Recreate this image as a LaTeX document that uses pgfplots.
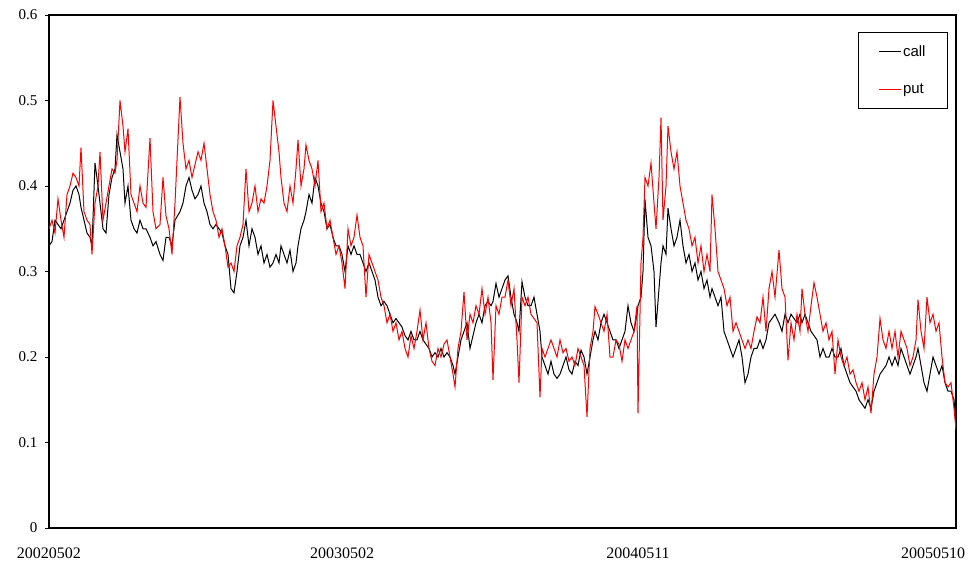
\documentclass[border=0pt]{standalone}
\usepackage{fontspec}
\setmainfont{Liberation Serif}
\setsansfont{Liberation Sans}
\usepackage{pgfplots}
\usepackage{pgfplotstable}
\pgfplotsset{compat=1.18}
\pgfplotstableread{
x c p
49 .33 .35
52 .335 .36
55 .36 .345
58 .355 .385
61 .35 .36
64 .36 .34
67 .37 .39
70 .38 .40
73 .395 .415
76 .40 .41
79 .39 .40
81 .375 .445
84 .36 .37
87 .345 .36
90 .34 .355
92 .33 .32
95 .427 .38
98 .40 .40
100 .38 .44
103 .35 .36
106 .345 .38
109 .39 .40
112 .41 .42
115 .42 .415
117 .46 .43
120 .44 .50
123 .42 .47
125 .38 .44
128 .40 .467
131 .36 .39
134 .35 .38
137 .345 .37
140 .36 .40
143 .35 .38
146 .35 .375
150 .34 .456
153 .33 .37
156 .335 .35
160 .32 .355
163 .313 .41
166 .34 .365
169 .34 .35
172 .33 .32
175 .36 .38
180 .37 .504
183 .38 .45
186 .40 .42
189 .41 .43
192 .395 .41
195 .385 .425
198 .39 .44
201 .40 .43
204 .38 .45
207 .37 .42
210 .355 .39
213 .35 .37
216 .355 .36
219 .35 .34
222 .345 .35
225 .33 .33
228 .32 .305
231 .28 .31
234 .275 .30
237 .30 .33
240 .33 .34
243 .34 .355
246 .36 .42
249 .33 .37
252 .35 .38
255 .34 .40
258 .32 .37
261 .33 .385
264 .31 .38
267 .32 .40
270 .305 .43
273 .31 .50
276 .32 .47
279 .31 .44
281 .33 .41
284 .32 .38
287 .31 .37
290 .325 .40
293 .30 .38
296 .31 .42
298 .33 .454
301 .35 .40
304 .36 .42
306 .37 .448
309 .39 .43
312 .38 .42
315 .41 .40
318 .40 .43
321 .38 .37
324 .37 .38
327 .35 .35
330 .355 .36
333 .34 .34
336 .33 .32
339 .33 .33
342 .32 .31
345 .30 .28
348 .33 .35
351 .32 .33
354 .33 .34
357 .32 .366
360 .32 .34
363 .31 .33
366 .30 .27
369 .31 .32
372 .30 .31
375 .29 .30
378 .27 .29
381 .26 .27
384 .265 .26
387 .26 .24
390 .25 .25
393 .24 .23
396 .245 .24
399 .24 .22
402 .235 .23
405 .225 .21
408 .22 .20
411 .23 .225
414 .22 .21
417 .22 .23
420 .23 .255
423 .22 .22
426 .215 .24
429 .21 .21
432 .20 .195
435 .205 .19
438 .20 .21
441 .21 .20
444 .20 .215
447 .205 .22
450 .20 .20
453 .19 .18
455 .18 .165
458 .20 .21
461 .22 .23
464 .23 .276
467 .24 .22
470 .21 .25
473 .225 .24
476 .24 .26
479 .25 .25
482 .24 .28
485 .26 .25
488 .265 .27
491 .26 .24
493 .265 .173
496 .286 .26
499 .27 .25
502 .28 .27
505 .29 .27
508 .295 .29
511 .27 .26
514 .25 .28
517 .24 .22
519 .23 .17
522 .288 .27
525 .27 .26
528 .26 .27
531 .26 .25
534 .27 .245
537 .25 .24
540 .23 .153
542 .20 .21
545 .19 .20
548 .18 .21
551 .195 .22
554 .18 .21
557 .175 .20
560 .18 .22
563 .19 .205
566 .20 .21
569 .185 .195
572 .18 .20
575 .195 .19
578 .19 .21
581 .208 .20
584 .20 .19
587 .18 .13
590 .20 .21
593 .22 .23
595 .23 .259
598 .22 .25
601 .24 .24
604 .25 .23
607 .24 .25
610 .23 .20
613 .22 .20
616 .22 .22
619 .21 .215
622 .22 .195
625 .23 .22
628 .26 .21
631 .24 .22
634 .23 .23
637 .25 .26
638 .26 .134
641 .27 .31
643 .30 .34
645 .384 .41
648 .34 .40
651 .33 .427
654 .30 .38
656 .235 .35
659 .28 .41
661 .31 .48
663 .33 .36
666 .32 .40
668 .374 .47
671 .35 .44
674 .33 .42
677 .34 .44
680 .36 .40
683 .33 .38
686 .31 .36
689 .32 .35
692 .30 .33
695 .31 .34
698 .29 .31
701 .30 .33
704 .28 .30
707 .29 .32
710 .27 .30
712 .28 .39
715 .27 .35
718 .26 .30
721 .27 .29
724 .23 .28
727 .22 .26
730 .21 .27
733 .20 .23
736 .21 .24
739 .22 .23
742 .20 .22
745 .17 .21
748 .18 .22
751 .20 .21
754 .21 .23
757 .21 .247
760 .22 .24
763 .21 .27
766 .22 .23
769 .24 .28
772 .245 .30
775 .25 .27
779 .24 .325
782 .23 .28
785 .25 .27
788 .24 .196
791 .25 .24
794 .245 .22
797 .24 .25
800 .25 .23
802 .24 .28
805 .25 .25
808 .24 .23
811 .23 .26
814 .225 .287
817 .22 .27
820 .20 .25
823 .21 .23
826 .20 .24
829 .20 .22
832 .21 .23
835 .20 .18
838 .20 .22
841 .21 .20
844 .19 .19
847 .18 .20
850 .17 .18
853 .165 .185
856 .16 .17
859 .15 .16
862 .145 .17
865 .14 .15
868 .15 .165
871 .14 .134
874 .16 .18
877 .17 .20
880 .18 .245
883 .185 .22
886 .19 .21
889 .20 .23
892 .19 .21
895 .20 .23
898 .19 .20
901 .21 .23
904 .20 .22
907 .19 .21
910 .18 .19
913 .19 .20
916 .20 .22
918 .21 .267
921 .19 .23
924 .17 .21
927 .16 .27
930 .18 .24
933 .20 .25
936 .19 .23
939 .18 .24
942 .19 .20
945 .17 .17
948 .16 .165
951 .16 .17
954 .15 .14
956 .12 .115
}\data
\begin{document}
\begin{tikzpicture}
\begin{axis}[
  scale only axis,
  width=907pt, height=513pt,
  xmin=49, xmax=956, ymin=0, ymax=0.6,
  axis line style={line width=1.2pt},
  xtick={49,342,638,933},
  xticklabels={20020502,20030502,20040511,20050510},
  x tick style={draw=none},
  xticklabel style={font=\fontsize{16}{16}\selectfont, yshift=-12pt},
  ytick={0,0.1,0.2,0.3,0.4,0.5,0.6},
  y tick style={black, line width=0.8pt},
  major tick length=4pt,
  tick align=outside,
  ytick pos=left,
  yticklabel style={font=\fontsize{15}{15}\selectfont, xshift=-4pt},
  /pgf/number format/assume math mode=true,
  /pgf/number format/.cd, fixed, precision=1,
  /pgfplots/.cd,
  legend style={at={(1,1)}, anchor=north east, xshift=-8pt, yshift=-17pt,
    font=\sffamily\fontsize{15}{15}\selectfont, draw=black, line width=1pt,
    inner xsep=20pt, inner ysep=11pt, row sep=22pt, cells={anchor=west}},
  legend image code/.code={\draw[#1, line width=1pt] (0pt,0pt) -- (22pt,0pt);},
]
\coordinate (bl) at (rel axis cs:0,0);
\addplot[black, line width=1pt] table[x=x, y=c] {\data};
\addlegendentry{call}
\addplot[red, line width=1pt] table[x=x, y=p] {\data};
\addlegendentry{put}
\end{axis}
\pgfresetboundingbox
\path[use as bounding box] (bl) ++(-49pt,-46pt) rectangle ++(971pt,574pt);
\end{tikzpicture}
\end{document}
